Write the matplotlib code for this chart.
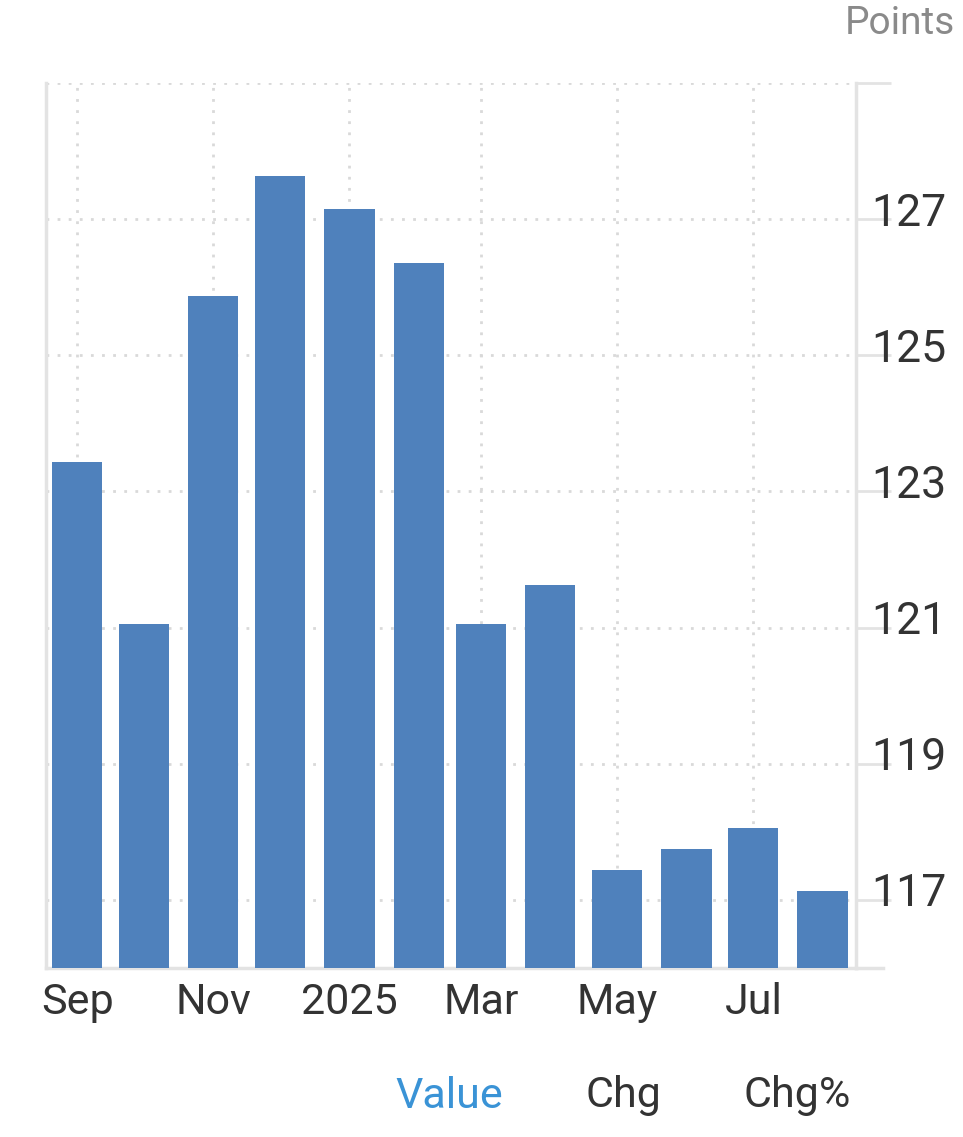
import matplotlib
matplotlib.use("Agg")
from matplotlib import pyplot as plt
import matplotlib.transforms as mtransforms
import datetime as dt

# monthly index, Sep 2024 - Aug 2025
months = ["2024-09", "2024-10", "2024-11", "2024-12", "2025-01", "2025-02",
          "2025-03", "2025-04", "2025-05", "2025-06", "2025-07", "2025-08"]
values = [123.44, 121.06, 125.87, 127.63, 127.15, 126.35,
          121.06, 121.63, 117.44, 117.75, 118.06, 117.13]
yticks = [117, 119, 121, 123, 125, 127, 129]
xtick_months = ["2024-09", "2024-11", "2025-01", "2025-03", "2025-05", "2025-07"]
xtick_labels = ["Sep", "Nov", "2025", "Mar", "May", "Jul"]

plt.rcParams['font.family'] = ['Roboto', 'DejaVu Sans']

BAR = "#4f81bc"
GRID = "#d9d9d9"
SPINE = "#e3e3e3"
TXT = "#333333"


def todate(s):
    y, m = s.split("-")
    return dt.date(int(y), int(m), 1)


dates = [todate(m) for m in months]

fig = plt.figure(figsize=(9.63, 11.37), dpi=100)
ax = fig.add_axes([46 / 963, 1 - 968 / 1137, (856 - 46) / 963, (968 - 83) / 1137])

ax.bar(dates, [v - 116 for v in values], bottom=116, width=22.5, color=BAR, zorder=3)

ax.set_ylim(116, 129)
ax.set_xlim(dt.date(2024, 8, 18), dt.date(2025, 8, 16))

ax.yaxis.tick_right()
ax.set_yticks(yticks)
ax.set_yticklabels([str(t) if t != 129 else "" for t in yticks])
ax.tick_params(axis='y', length=25, width=2, color=SPINE, labelsize=32,
               labelcolor=TXT, pad=-14)
# labels sit a little above their grid line
lift = mtransforms.ScaledTranslation(0, 4 / 72, fig.dpi_scale_trans)
for lab in ax.get_yticklabels():
    lab.set_verticalalignment('center')
    lab.set_transform(lab.get_transform() + lift)

ax.set_xticks([todate(m) for m in xtick_months])
ax.set_xticklabels(xtick_labels)
ax.tick_params(axis='x', length=0, labelsize=31, labelcolor=TXT, pad=10)

ax.grid(True, color=GRID, linestyle=(0, (1, 3)), linewidth=2, zorder=0)

for s in ["left", "right", "bottom"]:
    ax.spines[s].set_color(SPINE)
    ax.spines[s].set_linewidth(2.5)
ax.spines["top"].set_visible(False)
ax.plot([1.0, 1.033], [0, 0], transform=ax.transAxes, color=SPINE,
        linewidth=2.5, clip_on=False)

fig.text(955 / 963, 1 - 24 / 1137, "Points", ha='right', va='center',
         fontsize=28, color="#8a8a8a")

fig.text(449 / 963, 1 - 1096 / 1137, "Value", ha='center', va='center',
         fontsize=31, color="#3a93d6")
fig.text(623 / 963, 1 - 1096 / 1137, "Chg", ha='center', va='center',
         fontsize=31, color=TXT)
fig.text(797 / 963, 1 - 1096 / 1137, "Chg%", ha='center', va='center',
         fontsize=31, color=TXT)

fig.savefig("out.png", dpi=100)
